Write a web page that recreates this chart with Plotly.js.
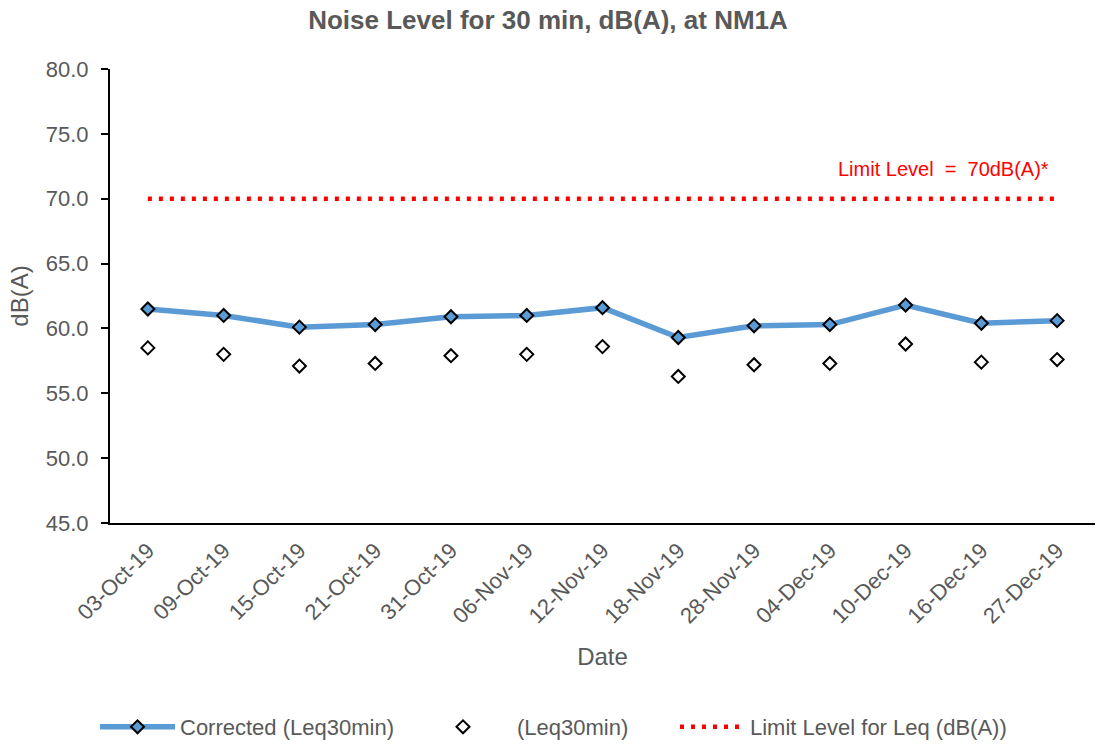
<!DOCTYPE html>
<html>
<head>
<meta charset="utf-8">
<script src="https://cdn.plot.ly/plotly-3.0.1.min.js"></script>
<style>html,body{margin:0;padding:0;background:#fff;}#chart{width:1096px;height:745px;}</style>
</head>
<body>
<div id="chart"></div>
<script>
const dates = ["03-Oct-19","09-Oct-19","15-Oct-19","21-Oct-19","31-Oct-19","06-Nov-19","12-Nov-19","18-Nov-19","28-Nov-19","04-Dec-19","10-Dec-19","16-Dec-19","27-Dec-19"];
const corrected = [61.5, 61.0, 60.1, 60.3, 60.9, 61.0, 61.6, 59.3, 60.2, 60.3, 61.8, 60.4, 60.6];
const leq = [58.5, 58.0, 57.1, 57.3, 57.9, 58.0, 58.6, 56.3, 57.2, 57.3, 58.8, 57.4, 57.6];
const limit = [70, 70, 70, 70, 70, 70, 70, 70, 70, 70, 70, 70, 70];
const yTicks = [45, 50, 55, 60, 65, 70, 75, 80];

const FONT = '"Liberation Sans", Arial, sans-serif';
const GREY = '#595959';

const traces = [
  {
    x: dates, y: corrected, name: 'Corrected (Leq30min)', type: 'scatter', mode: 'lines+markers',
    line: {color: '#5B9BD5', width: 5.5},
    marker: {symbol: 'diamond', size: 10, color: '#5B9BD5', line: {color: '#000', width: 2}},
    legend: 'legend'
  },
  {
    x: dates, y: leq, name: '(Leq30min)', type: 'scatter', mode: 'markers',
    marker: {symbol: 'diamond', size: 10, color: '#fff', line: {color: '#000', width: 2}},
    legend: 'legend2'
  },
  {
    x: dates, y: limit, name: 'Limit Level for Leq (dB(A))', type: 'scatter', mode: 'lines',
    line: {color: '#FF0000', width: 4.5, dash: '4px,7px'},
    legend: 'legend3'
  }
];

const pxToContainerX = px => px / 1096;
const legY = (745 - 727) / 745;
const legFont = {family: FONT, size: 22, color: GREY};
const legBase = {orientation: 'h', xref: 'container', yref: 'container', y: legY, yanchor: 'middle', xanchor: 'left',
                 font: legFont, bgcolor: 'rgba(0,0,0,0)', borderwidth: 0};

const layout = {
  width: 1096, height: 745,
  margin: {l: 110, r: 1, t: 69, b: 222, autoexpand: false},
  paper_bgcolor: '#fff', plot_bgcolor: '#fff',
  font: {family: FONT, color: GREY, size: 22},
  title: {text: '<b>Noise Level for 30 min, dB(A), at NM1A</b>', font: {family: FONT, size: 26, color: GREY},
          x: 0.5, xanchor: 'center', y: 0.973, yanchor: 'middle', yref: 'container'},
  xaxis: {
    type: 'category', range: [-0.5, 12.5], tickangle: -45,
    showline: true, linecolor: '#000', linewidth: 2, ticks: '', showgrid: false, zeroline: false,
    tickfont: {family: FONT, size: 22, color: GREY},
    ticklabelstandoff: 4,
    title: {text: 'Date', font: {family: FONT, size: 24, color: GREY}, standoff: 21}
  },
  yaxis: {
    range: [45, 80], tickvals: yTicks, ticktext: yTicks.map(v => v.toFixed(1)),
    showline: true, linecolor: '#000', linewidth: 2, ticks: 'outside', ticklen: 7, tickwidth: 2, tickcolor: '#000',
    showgrid: false, zeroline: false,
    tickfont: {family: FONT, size: 22, color: GREY},
    ticklabelstandoff: 8,
    title: {text: 'dB(A)', font: {family: FONT, size: 24, color: GREY}, standoff: 10}
  },
  showlegend: true,
  legend: Object.assign({}, legBase, {x: pxToContainerX(95), itemwidth: 75}),
  legend2: Object.assign({}, legBase, {x: pxToContainerX(409), itemwidth: 98}),
  legend3: Object.assign({}, legBase, {x: pxToContainerX(675), itemwidth: 65}),
  annotations: [{
    xref: 'paper', yref: 'y', x: 0.955, y: 72.3, xanchor: 'right', yanchor: 'middle',
    text: 'Limit Level  =  70dB(A)*', showarrow: false,
    font: {family: FONT, size: 20, color: '#FF0000'}
  }]
};

Plotly.newPlot('chart', traces, layout, {displayModeBar: false, staticPlot: true});
</script>
</body>
</html>
